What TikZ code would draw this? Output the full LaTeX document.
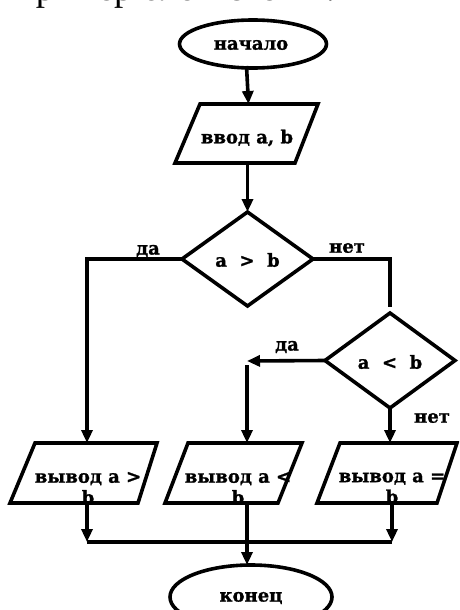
\documentclass[tikz,border=0pt]{standalone}
\usepackage{fontspec}
\setmainfont{DejaVu Serif}[BoldFeatures={FakeBold=1.2}]
\newfontfamily\titlefont{Liberation Serif}
\usetikzlibrary{shapes.geometric,arrows.meta}
\tikzset{
  ln/.style={line width=3.6pt, line join=miter},
  arr/.style={ln, -{Triangle[length=13pt,width=11pt]}},
  term/.style={ellipse, draw, line width=3.6pt, inner sep=0pt, outer sep=0pt},
  dec/.style={diamond, draw, line width=3.6pt, inner sep=0pt, outer sep=0pt, minimum width=131pt, minimum height=94pt},
  box/.style={rectangle, draw=none, inner sep=0pt, outer sep=0pt},
  txt/.style={font=\fontsize{18}{21}\selectfont\bfseries, inner sep=0pt},
  lbl/.style={font=\fontsize{18}{21}\selectfont\bfseries, inner sep=0pt}
}
\begin{document}
\begin{tikzpicture}[x=1pt,y=-1pt]
\useasboundingbox (0,0) rectangle (459,610);
\clip (0,0) rectangle (459,610);
\node[anchor=base west, inner sep=0pt, font=\titlefont\fontsize{37}{40}\selectfont] (title) at (9,1) {Пример блок-схемы:};
% terminals
\node[term, minimum width=147pt, minimum height=48pt] (start) at (253,44) {};
\node[txt] (starttxt) at (251,45) {начало};
\node[term, minimum width=162pt, minimum height=64pt] (stop) at (251,597) {};
\node[txt] (stoptxt) at (251,598) {конец};
% input
\node[box, minimum width=143pt, minimum height=59pt] (vvod) at (246.5,133.5) {};
\draw[ln] ([xshift=25pt]vvod.north west) -- (vvod.north east) -- ([xshift=-23pt]vvod.south east) -- (vvod.south west) -- cycle;
\node[txt] (vvodtxt) at (247,138) {ввод a, b};
% decisions
\node[dec] (d1) at (247.5,259) {};
\node[txt] (d1txt) at (247.5,260) {a \ > \ b};
\node[dec, minimum width=130pt, minimum height=95pt] (d2) at (390,360.5) {};
\node[txt] (d2txt) at (390,362) {a \ < \ b};
% outputs
\node[box, minimum width=147pt, minimum height=60pt] (p1) at (83.5,473) {};
\draw[ln] ([xshift=25pt]p1.north west) -- (p1.north east) -- ([xshift=-19pt]p1.south east) -- (p1.south west) -- cycle;
\node[txt, align=center] (p1txt) at (88,488) {вывод a >\\b};
\node[box, minimum width=137pt, minimum height=60pt] (p2) at (233.5,473) {};
\draw[ln] ([xshift=23pt]p2.north west) -- (p2.north east) -- ([xshift=-24pt]p2.south east) -- (p2.south west) -- cycle;
\node[txt, align=center] (p2txt) at (238,488) {вывод a <\\b};
\node[box, minimum width=140pt, minimum height=60pt] (p3) at (387,473) {};
\draw[ln] ([xshift=23pt]p3.north west) -- (p3.north east) -- ([xshift=-20pt]p3.south east) -- (p3.south west) -- cycle;
\node[txt, align=center] (p3txt) at (392,488) {вывод a =\\b};
% labels
\node[lbl] (yes1) at (148,251) {да};
\node[lbl] (no1) at (347,248) {нет};
\node[lbl] (yes2) at (287,347) {да};
\node[lbl] (no2) at (432,418) {нет};
% helper coordinates
\coordinate (cL) at (87,259);
\coordinate (cR) at (390,259);
\coordinate (cR2) at (390,307);
\coordinate (cM) at (247,361);
\coordinate (cM2) at (247,365);
\coordinate (jL) at (87,542);
\coordinate (jR) at (392,542);
\coordinate (jM) at (247,542);
% connectors
\draw[arr] (start.south -| vvod.north) ++(0,-2) -- ([xshift=2pt]vvod.north);
\draw[arr] (vvod.south -| d1.north) -- (d1.north);
\draw[arr] (d1.west) -- (cL) -- (cL |- p1.north);
\draw[ln] (d1.east) -- (cR) -- (cR2);
\draw[arr] (d2.west) -- (cM);
\draw[arr] (cM2) -- (cM2 |- p2.north);
\draw[arr] (d2.south) -- (d2.south |- p3.north);
\draw[arr] (cL |- p1.south) -- (jL);
\draw[arr] (jR |- p3.south) -- (jR);
\draw[ln] (jL) -- (jR);
\draw[arr] (cM |- p2.south) -- (stop.north -| cM);
\end{tikzpicture}
\end{document}
